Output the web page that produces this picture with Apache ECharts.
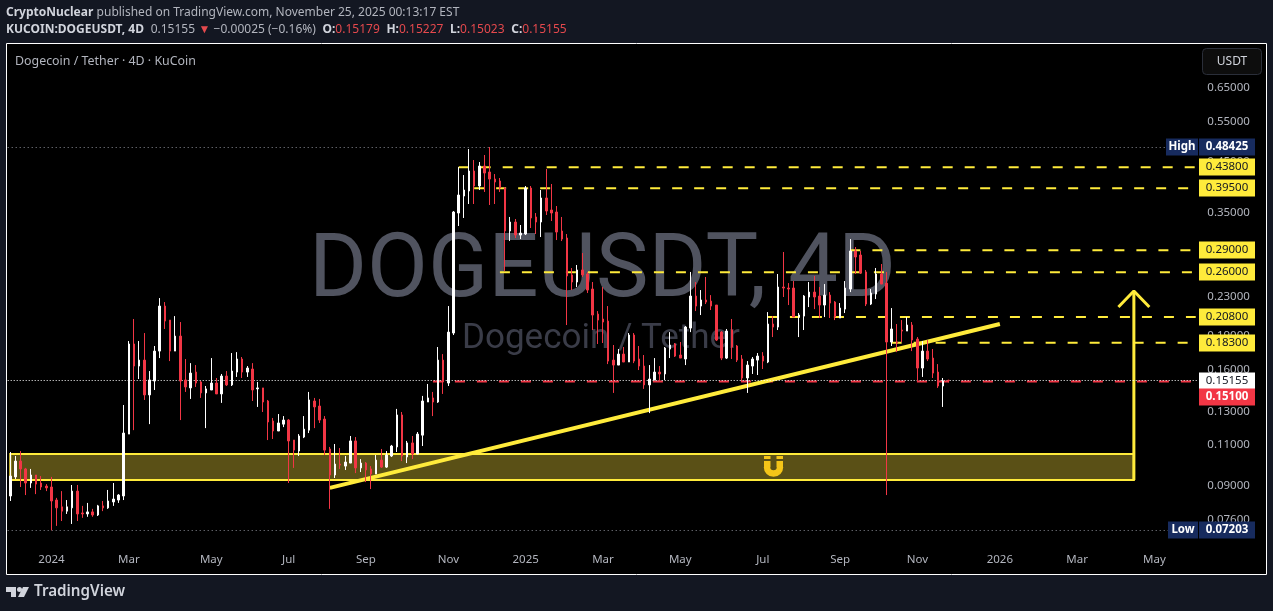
<!DOCTYPE html>
<html lang="en" style="height: 100%">

<head>
  <meta charset="utf-8">
</head>

<body style="height: 100%; margin: 0; background: #131722">
  <div id="container" style="width: 1273px; height: 611px"></div>

  <script type="text/javascript" src="https://cdn.jsdelivr.net/npm/echarts@6/dist/echarts.min.js"></script>
  <script type="text/javascript">
    // candle values, one per 4D bar
    const opens = [.0854,.0939,.1016,.0977,.0911,.0948,.0911,.0897,.0893,.0837,.0809,.0792,.0805,.0875,.0785,.0781,.0789,.0777,.0813,.0805,
      .0829,.0837,.0854,.1162,.1819,.1630,.1679,.1412,.1513,.1756,.2197,.2049,.1756,.1892,.1521,.1462,.1582,.1506,.1426,.1447,
      .1498,.1419,.1551,.1484,.1582,.1688,.1582,.1606,.1455,.1462,.1370,.1240,.1180,.1221,.1246,.1128,.1068,.1145,.1185,.1370,
      .1336,.1252,.1079,.0948,.1001,.0991,.1006,.1123,.0982,.1006,.0977,.0953,.1021,.0986,.1042,.1090,.1278,.1037,.1112,.1052,
      .1156,.1363,.1391,.1363,.1679,.1498,.1921,.3490,.3798,.3894,.4301,.3992,.4409,.4280,.4133,.4092,.3952,.3191,.3337,.3128,
      .3144,.3952,.3422,.3337,.3761,.3543,.3508,.3191,.3082,.2565,.2476,.2629,.2577,.2391,.2111,.2060,.2039,.1679,.1638,.1730,
      .1663,.1902,.1688,.1630,.1484,.1521,.1582,.1567,.1774,.1819,.1722,.1688,.1969,.2309,.2197,.2264,.2252,.2208,.1930,.1696,
      .1950,.1801,.1688,.1536,.1630,.1679,.1713,.1663,.2009,.1979,.2415,.2403,.2403,.2080,.2090,.2298,.2355,.2309,.2208,.2320,
      .2241,.2070,.2164,.2391,.2889,.2832,.2603,.2219,.2332,.2577,.2463,.1837,.1837,.1950,.1940,.1999,.1864,.1614,.1756,.1696,
      .1582,.1476,.1518];
    const closes = [.0943,.1016,.0977,.0911,.0948,.0906,.0893,.0889,.0833,.0805,.0792,.0809,.0875,.0781,.0781,.0789,.0777,.0813,.0805,.0833,
      .0841,.0858,.1168,.1819,.1630,.1679,.1412,.1521,.1756,.2197,.2039,.1756,.1892,.1513,.1469,.1574,.1498,.1426,.1455,.1498,
      .1419,.1551,.1484,.1590,.1688,.1582,.1614,.1447,.1462,.1363,.1234,.1180,.1228,.1246,.1123,.1073,.1151,.1191,.1377,.1330,
      .1246,.1073,.0948,.1001,.0996,.1011,.1123,.0982,.1006,.0972,.0953,.1021,.0986,.1047,.1095,.1278,.1042,.1112,.1052,.1162,
      .1370,.1391,.1363,.1679,.1506,.1930,.3508,.3817,.3913,.4301,.3992,.4409,.4258,.4133,.4072,.3952,.3191,.3337,.3128,.3159,
      .3952,.3405,.3337,.3761,.3525,.3490,.3175,.3066,.2552,.2476,.2629,.2565,.2379,.2101,.2049,.2029,.1671,.1638,.1730,.1663,
      .1902,.1671,.1630,.1484,.1528,.1582,.1567,.1783,.1810,.1713,.1696,.1979,.2309,.2197,.2264,.2241,.2197,.1855,.1696,.1940,
      .1792,.1679,.1536,.1638,.1688,.1713,.1671,.2009,.1979,.2415,.2403,.2391,.2080,.2101,.2309,.2355,.2298,.2208,.2320,.2230,
      .2080,.2175,.2403,.2889,.2804,.2590,.2219,.2344,.2577,.2451,.1837,.1960,.1828,.1940,.1999,.1855,.1614,.1756,.1688,.1574,
      .1476,.1513,.1516];
    const lows = [.0833,.0929,.0893,.0858,.0889,.0862,.0880,.0875,.0720,.0736,.0754,.0781,.0743,.0754,.0766,.0770,.0770,.0773,.0792,.0801,
      .0813,.0825,.0837,.1162,.1185,.1528,.1377,.1221,.1447,.1696,.1960,.1671,.1756,.1246,.1433,.1384,.1469,.1391,.1197,.1447,
      .1419,.1357,.1476,.1476,.1544,.1536,.1544,.1370,.1330,.1297,.1128,.1134,.1180,.1203,.0911,.0982,.1042,.1139,.1168,.1197,
      .1228,.1047,.0801,.0934,.0977,.0972,.1006,.0957,.0962,.0915,.0884,.0953,.0982,.0982,.1037,.1063,.1016,.1006,.1026,.1052,
      .1095,.1363,.1271,.1357,.1419,.1476,.1902,.3272,.3405,.3650,.3650,.3913,.3875,.3632,.3650,.3875,.2616,.3036,.3082,.3066,
      .3128,.3239,.3144,.3097,.3456,.3354,.3051,.3036,.1999,.2379,.2415,.2539,.2344,.1950,.1819,.1828,.1646,.1426,.1638,.1663,
      .1663,.1654,.1598,.1455,.1290,.1521,.1506,.1521,.1696,.1705,.1696,.1638,.1930,.2143,.2101,.2219,.2154,.1846,.1679,.1688,
      .1688,.1663,.1513,.1426,.1567,.1559,.1606,.1654,.1883,.1950,.2298,.2208,.2080,.1883,.1950,.2186,.2164,.2070,.2080,.2070,
      .2049,.2070,.2122,.2355,.2577,.2577,.2197,.2208,.2275,.2451,.0858,.1801,.1747,.1837,.1940,.1756,.1513,.1544,.1671,.1536,
      .1462,.1330,.1502];
    const highs = [.1063,.1042,.1068,.0982,.0977,.0948,.0943,.0906,.0939,.0846,.0875,.0837,.0902,.0902,.0813,.0825,.0801,.0817,.0833,.0880,
      .0911,.0862,.1343,.1846,.2060,.1846,.1921,.1590,.1801,.2286,.2241,.2049,.2090,.2029,.1688,.1654,.1638,.1513,.1476,.1696,
      .1536,.1567,.1590,.1739,.1747,.1705,.1630,.1654,.1506,.1462,.1377,.1259,.1284,.1271,.1252,.1128,.1162,.1271,.1433,.1391,
      .1384,.1271,.1090,.1106,.1084,.1042,.1151,.1145,.1026,.1011,.0991,.1047,.1079,.1068,.1101,.1317,.1297,.1123,.1151,.1174,
      .1405,.1491,.1433,.1792,.1730,.2197,.3525,.4387,.4216,.4798,.4543,.4498,.4658,.4846,.4237,.4154,.3972,.3422,.3388,.3288,
      .3992,.3992,.3490,.3913,.4344,.4032,.3614,.3422,.3144,.2655,.2695,.2860,.2603,.2476,.2143,.2415,.2197,.1810,.1774,.1792,
      .1921,.1921,.1801,.1722,.1638,.1696,.1630,.1792,.1930,.1828,.1837,.1989,.2603,.2476,.2379,.2539,.2320,.2208,.1940,.1960,
      .2060,.1810,.1722,.1671,.1705,.1739,.1747,.2132,.2090,.2577,.2875,.2463,.2488,.2122,.2320,.2476,.2552,.2415,.2451,.2355,
      .2252,.2230,.2488,.3066,.2947,.2889,.2629,.2391,.2655,.2708,.2603,.2175,.2009,.2049,.2080,.2029,.1883,.1846,.1855,.1774,
      .1646,.1536,.1523];

    // axis labels
    const barCount = 231;
    const timeTickBars = [8, 23, 39, 54, 69, 85, 100, 115, 130, 146, 161, 176, 192, 207, 222];
    const timeTickNames = ['2024', 'Mar', 'May', 'Jul', 'Sep', 'Nov', '2025', 'Mar', 'May', 'Jul', 'Sep', 'Nov', '2026', 'Mar', 'May'];
    const priceTicks = [0.65, 0.55, 0.45, 0.35, 0.23, 0.19, 0.16, 0.13, 0.11, 0.09, 0.076];

    // dashed resistance levels and the bar where each one starts
    const levelValues = [0.438, 0.395, 0.29, 0.26, 0.208, 0.183];
    const levelStartBars = [87, 90, 163, 95, 147, 171];
    const lastEdgeBar = 230;

    const allHigh = 0.48425;
    const allLow = 0.07203;
    const lastPrice = 0.15155;
    const alertPrice = 0.151;
    const alertStartBar = 82;

    const zoneTop = 0.1052;
    const zoneBottom = 0.0925;
    const zoneStartBar = 0;
    const arrowBar = 218;
    const arrowTip = 0.2367;
    const arrowWing = 0.2186;
    const trendBars = [62, 192];
    const trendValues = [0.0889, 0.2009];

    // tags on the price scale
    const tagValues = [allHigh, 0.438, 0.395, 0.29, 0.26, 0.208, 0.183, lastPrice, alertPrice, allLow];
    const tagKinds = ['high', 'level', 'level', 'level', 'level', 'level', 'level', 'last', 'alert', 'low'];

    const YELLOW = '#ffeb3b';
    const RED = '#f23645';
    const NAVY = '#172b5e';
    const TEXT = '#b2b5be';
    const FONT = '"Noto Sans", sans-serif';

    const categories = [];
    for (let i = 0; i < barCount; i++) {
      const t = timeTickBars.indexOf(i);
      categories.push(t >= 0 ? timeTickNames[t] : '');
    }
    const candles = opens.map((o, i) => [o, closes[i], lows[i], highs[i]]);

    function flatLine(value, startBar, endBar, color, dash) {
      return {
        type: 'line', z: 1, symbol: 'none', silent: true, animation: false,
        lineStyle: { color: color, width: 2, type: dash },
        data: [[startBar, value], [endBar, value]]
      };
    }

    const tagStyle = {
      high: { fill: NAVY, text: '#ffffff', side: 'High', weight: 'bold' },
      low: { fill: NAVY, text: '#ffffff', side: 'Low', weight: 'bold' },
      level: { fill: YELLOW, text: '#131722' },
      last: { fill: '#ffffff', text: '#131722' },
      alert: { fill: RED, text: '#ffffff', shift: 16, weight: 'bold' }
    };

    function renderTag(params, api) {
      const i = api.value(2);
      const kind = tagKinds[i];
      const st = tagStyle[kind];
      const y = Math.round(api.coord([0, api.value(1)])[1] + (st.shift || 0));
      const children = [
        { type: 'rect', shape: { x: 1199, y: y - 8.5, width: 56, height: 17 }, style: { fill: st.fill } },
        {
          type: 'text', x: 1227, y: y,
          style: { text: tagValues[i].toFixed(5), fill: st.text, font: (st.weight || 'normal') + ' 11.5px ' + FONT, align: 'center', verticalAlign: 'middle' }
        }
      ];
      if (st.side) {
        const w = st.side === 'High' ? 32 : 30;
        children.push(
          { type: 'rect', shape: { x: 1198 - w, y: y - 8.5, width: w, height: 17 }, style: { fill: st.fill } },
          {
            type: 'text', x: 1198 - w / 2, y: y,
            style: { text: st.side, fill: '#ffffff', font: 'bold 11.5px ' + FONT, align: 'center', verticalAlign: 'middle' }
          }
        );
      }
      return { type: 'group', children: children };
    }

    const series = [
      {
        name: 'zone', type: 'line', z: 0, symbol: 'none', silent: true, animation: false,
        lineStyle: { opacity: 0 },
        data: [[zoneStartBar, zoneTop], [arrowBar, zoneBottom]],
        markArea: {
          silent: true, animation: false,
          itemStyle: { color: '#5a5016', borderColor: YELLOW, borderWidth: 2 },
          data: [[{ xAxis: zoneStartBar, yAxis: zoneTop }, { xAxis: arrowBar, yAxis: zoneBottom }]]
        }
      },
      {
        name: 'priceLines', type: 'line', z: 1, symbol: 'none', silent: true, animation: false,
        data: [],
        markLine: {
          silent: true, animation: false, symbol: 'none', precision: 5, label: { show: false },
          data: [
            { yAxis: allHigh, lineStyle: { color: '#8a8d96', width: 1, type: [1, 3] } },
            { yAxis: allLow, lineStyle: { color: '#8a8d96', width: 1, type: [1, 3] } },
            { yAxis: lastPrice, lineStyle: { color: '#ffffff', width: 1, type: [1, 2] } }
          ]
        }
      }
    ];
    series.splice(1, 0, flatLine(alertPrice, alertStartBar, lastEdgeBar, RED, [10, 12]));
    levelValues.forEach((v, i) => series.push(flatLine(v, levelStartBars[i], lastEdgeBar, YELLOW, [10, 12])));
    series.push(
      {
        name: 'trend', type: 'line', z: 1, symbol: 'none', silent: true, animation: false,
        lineStyle: { color: YELLOW, width: 4 },
        data: [[trendBars[0], trendValues[0]], [trendBars[1], trendValues[1]]]
      },
      {
        name: 'arrowShaft', type: 'line', z: 1, symbol: 'none', silent: true, animation: false,
        lineStyle: { color: YELLOW, width: 3 },
        data: [[arrowBar, zoneBottom], [arrowBar, arrowTip]]
      },
      {
        name: 'arrowHead', type: 'line', z: 1, symbol: 'none', silent: true, animation: false,
        lineStyle: { color: YELLOW, width: 3 },
        data: [[arrowBar - 3, arrowWing], [arrowBar, arrowTip], [arrowBar + 3, arrowWing]]
      },
      {
        name: 'DOGEUSDT', type: 'candlestick', z: 5, barWidth: 2, animation: false, large: false,
        itemStyle: { color: '#ffffff', color0: RED, borderColor: '#ffffff', borderColor0: RED, borderWidth: 1 },
        data: candles
      },
      {
        name: 'tags', type: 'custom', z: 8, silent: true, animation: false,
        renderItem: renderTag,
        encode: { x: 0, y: 1 },
        data: tagValues.map((v, i) => [0, v, i])
      }
    );

    var myChart = echarts.init(document.getElementById('container'), null, { renderer: 'canvas' });

    var option = {
      backgroundColor: '#131722',
      animation: false,
      grid: { left: 7.7, top: 45, width: 1190.6, height: 501 },
      xAxis: {
        type: 'category',
        data: categories,
        boundaryGap: true,
        axisLine: { show: false },
        axisTick: { show: false },
        splitLine: { show: false },
        axisLabel: { interval: 0, color: TEXT, fontFamily: FONT, fontSize: 11.5, margin: 8 }
      },
      yAxis: {
        type: 'log',
        logBase: 10,
        position: 'right',
        min: 0.06659,
        max: 0.8051,
        axisLine: { show: false },
        axisTick: { show: false },
        splitLine: { show: false },
        axisLabel: {
          customValues: priceTicks,
          color: TEXT,
          fontFamily: FONT,
          fontSize: 11.5,
          margin: 9,
          formatter: (v) => v.toFixed(5)
        }
      },
      graphic: [
        // pane and frame
        { type: 'rect', z: -2, shape: { x: 6.5, y: 43.5, width: 1260, height: 531 }, style: { fill: '#000000', stroke: '#ffffff', lineWidth: 1 } },
        // watermark
        { type: 'text', z: -1, x: 309, y: 274, style: { text: 'DOGEUSDT, 4D', fill: '#50535f', font: '88.5px Roboto, sans-serif', verticalAlign: 'middle' } },
        { type: 'text', z: -1, x: 462, y: 339, style: { text: 'Dogecoin / Tether', fill: '#3a3c48', font: '35px Roboto, sans-serif', verticalAlign: 'middle' } },
        // header
        {
          type: 'text', x: 6, y: 13, z: 10,
          style: {
            text: '{b|CryptoNuclear} {n|published on TradingView.com, November 25, 2025 00:13:17 EST}',
            verticalAlign: 'middle',
            rich: {
              b: { fill: '#d1d4dc', font: 'bold 12px ' + FONT },
              n: { fill: TEXT, font: '12px ' + FONT }
            }
          }
        },
        {
          type: 'text', x: 6, y: 30, z: 10,
          style: {
            text: '{b|KUCOIN:DOGEUSDT, 4D}  {n|0.15155} {r|▼} {n|−0.00025 (−0.16%)}  {b|O:}{r|0.15179}  {b|H:}{r|0.15227}  {b|L:}{r|0.15023}  {b|C:}{r|0.15155}',
            verticalAlign: 'middle',
            rich: {
              b: { fill: '#d1d4dc', font: 'bold 12px ' + FONT },
              n: { fill: TEXT, font: '12px ' + FONT },
              r: { fill: '#e5494d', font: '12px ' + FONT }
            }
          }
        },
        { type: 'text', x: 15, y: 61, z: 10, style: { text: 'Dogecoin / Tether · 4D · KuCoin', fill: TEXT, font: '12.4px ' + FONT, verticalAlign: 'middle' } },
        // currency button
        { type: 'rect', z: 10, shape: { x: 1202.5, y: 48.5, width: 59, height: 26, r: 4 }, style: { fill: '#0d0d0d', stroke: '#2a2e39', lineWidth: 1 } },
        { type: 'text', z: 11, x: 1232, y: 62, style: { text: 'USDT', fill: '#d1d4dc', font: '12px ' + FONT, align: 'center', verticalAlign: 'middle' } },
        // magnet mark inside the zone
        { type: 'arc', z: 6, shape: { cx: 773.5, cy: 467, r: 6.5, startAngle: 0, endAngle: Math.PI, clockwise: true }, style: { stroke: '#f5c518', fill: 'none', lineWidth: 6.5 } },
        { type: 'rect', z: 6, shape: { x: 764, y: 461, width: 6.5, height: 6 }, style: { fill: '#f5c518' } },
        { type: 'rect', z: 6, shape: { x: 776.5, y: 461, width: 6.5, height: 6 }, style: { fill: '#f5c518' } },
        { type: 'rect', z: 6, shape: { x: 764, y: 456, width: 6.5, height: 3 }, style: { fill: '#f5c518' } },
        { type: 'rect', z: 6, shape: { x: 776.5, y: 456, width: 6.5, height: 3 }, style: { fill: '#f5c518' } },
        // TradingView logo
        { type: 'polygon', z: 10, shape: { points: [[6, 587], [16, 587], [16, 597], [11, 597], [11, 592], [6, 592]] }, style: { fill: '#d1d4dc' } },
        { type: 'circle', z: 10, shape: { cx: 19.5, cy: 589.5, r: 2.5 }, style: { fill: '#d1d4dc' } },
        { type: 'polygon', z: 10, shape: { points: [[23, 587], [29, 587], [24, 597], [18, 597]] }, style: { fill: '#d1d4dc' } },
        { type: 'text', z: 10, x: 34, y: 592, style: { text: 'TradingView', fill: '#d1d4dc', font: '600 15.2px ' + FONT, verticalAlign: 'middle' } }
      ],
      series: series
    };

    myChart.setOption(option);
    window.addEventListener('resize', myChart.resize);
  </script>
</body>

</html>
